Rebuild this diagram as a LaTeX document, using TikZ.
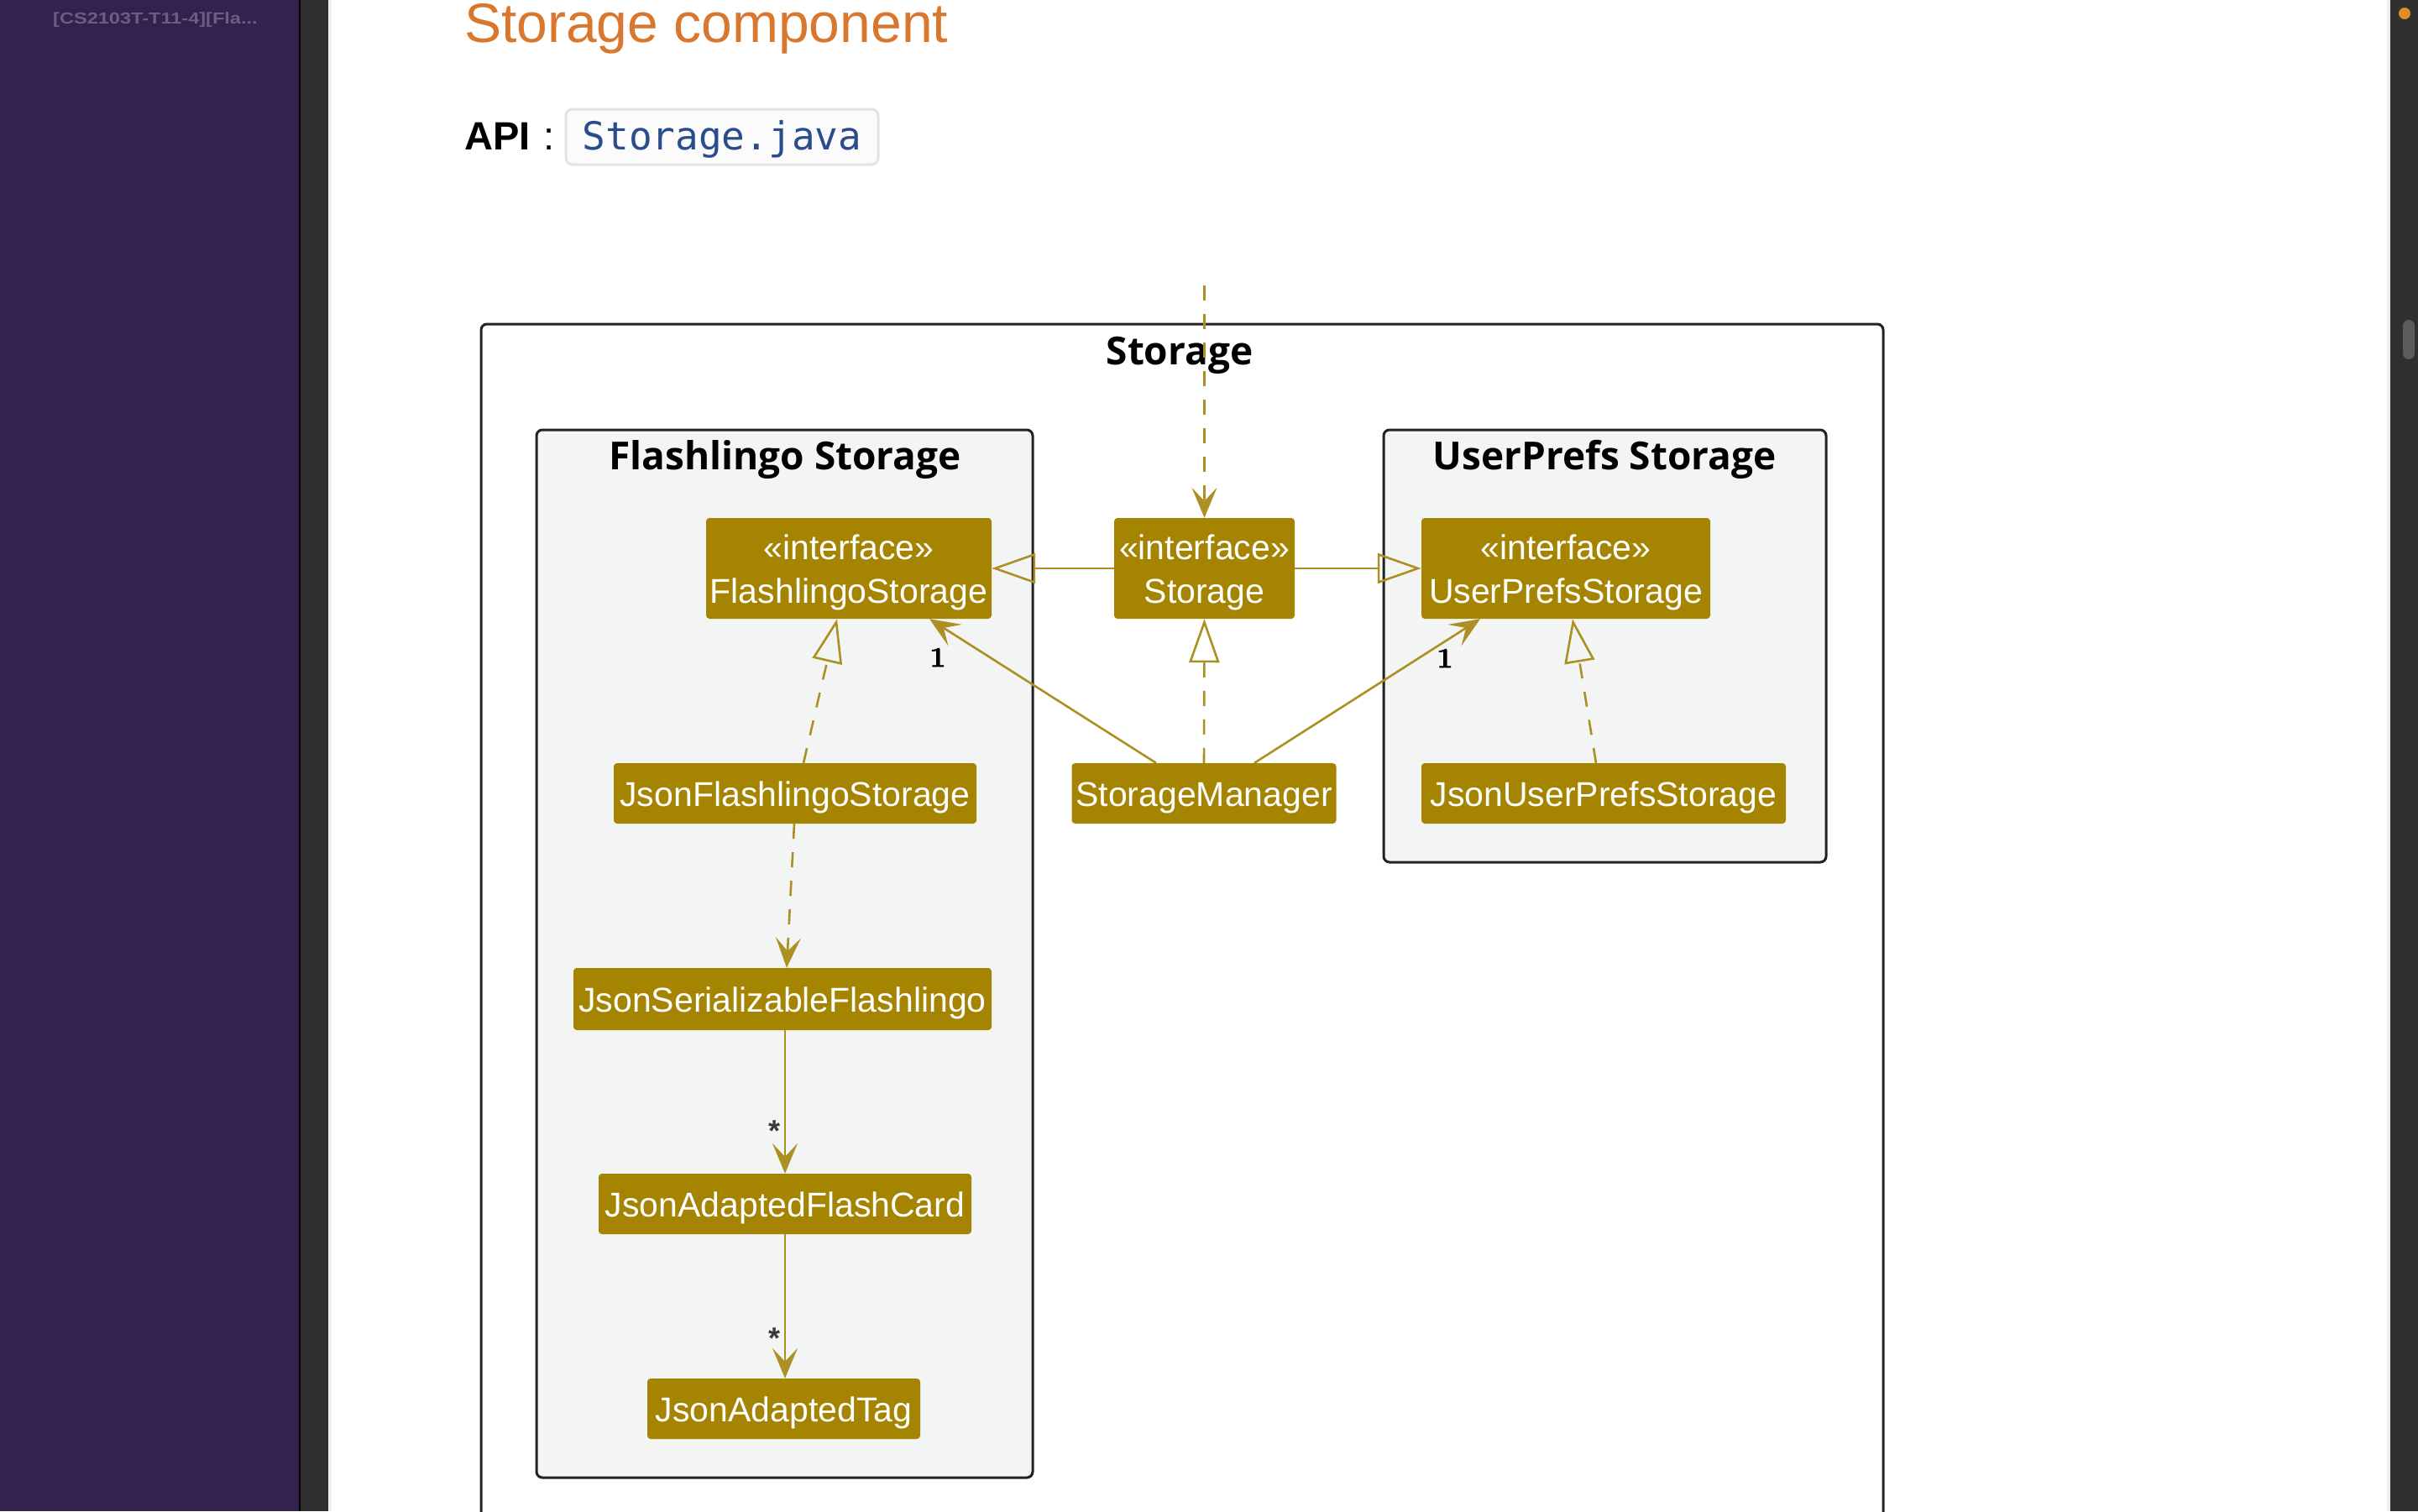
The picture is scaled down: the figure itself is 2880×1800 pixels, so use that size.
\documentclass[tikz,border=0pt]{standalone}
\usepackage{fontspec}
\usepackage{graphicx}
\newfontfamily\sans{Liberation Sans}
\newfontfamily\pkgfont{Open Sans}
\newfontfamily\codefont{DejaVu Sans Mono}
\newfontfamily\multfont{lmroman10-bold.otf}[FakeBold=1.2]
\newcommand\clsstrut{\rule{0pt}{40pt}}
\usetikzlibrary{arrows.meta}
\definecolor{sidepurple}{HTML}{34224E}
\definecolor{sidegray}{HTML}{2F2F2F}
\definecolor{sidetext}{HTML}{6A5E82}
\definecolor{titleorange}{HTML}{D9772F}
\definecolor{codeblue}{HTML}{2A4C8C}
\definecolor{codeborder}{HTML}{E3E3E3}
\definecolor{codebg}{HTML}{FBFBFB}
\definecolor{gold}{HTML}{A48400}
\definecolor{goldline}{HTML}{AC9024}
\definecolor{pkgfill}{HTML}{F3F4F4}
\definecolor{pkgline}{HTML}{222222}
\definecolor{starc}{HTML}{3A3A3A}
\definecolor{dotorange}{HTML}{DB8E2E}
\definecolor{thumb}{HTML}{5C5C5C}
\definecolor{edgestrip}{HTML}{EFEFEF}
\begin{document}
\begin{tikzpicture}[x=1pt,y=-1pt,
  cls/.style={fill=gold, rounded corners=4pt, text=white, font=\sans\fontsize{41}{52}\selectfont, align=center, inner sep=0pt},
  pkg/.style={draw=pkgline, line width=3pt, rounded corners=7pt, inner sep=0pt},
  pkgtitle/.style={font=\pkgfont\bfseries\fontsize{46}{50}\selectfont, inner sep=0pt, anchor=base},
  conn/.style={draw=goldline, line width=2.6pt},
  dep/.style={dash pattern=on 18pt off 16pt},
  tri/.style={-{Triangle[open, length=52pt, width=36pt]}},
  stl/.style={-{Stealth[length=36pt, width=30pt, inset=16pt]}},
  mult/.style={font=\multfont\fontsize{34}{34}\selectfont, inner sep=0pt},
  star/.style={font=\sans\bfseries\fontsize{36}{36}\selectfont, text=starc, inner sep=0pt},
]
\useasboundingbox (0,0) rectangle (2880,1800);
% page chrome
\fill[white] (0,0) rectangle (2880,1800);
\fill[sidepurple] (0,0) rectangle (356,1800);
\fill[black] (356,0) rectangle (358,1800);
\fill[sidegray] (358,0) rectangle (391,1800);
\fill[edgestrip] (391,0) rectangle (395,1800);
\fill[edgestrip] (2843,0) rectangle (2847,1800);
\fill[sidegray] (2847,0) rectangle (2880,1800);
\fill[dotorange] (2864,16) circle (7pt);
\fill[thumb, rounded corners=7pt] (2862,381) rectangle (2876,428);
\node[anchor=base west, text=sidetext, font=\sans\bfseries\fontsize{19}{19}\selectfont, inner sep=0pt] (side) at (63,28) {\scalebox{1.24}[1]{[CS2103T-T11-4][Fla...}};
% heading
\node[anchor=base west, text=titleorange, font=\sans\fontsize{66}{66}\selectfont, inner sep=0pt] (title) at (553,50) {Storage component};
\node[anchor=base west, font=\sans\bfseries\fontsize{47}{47}\selectfont, inner sep=0pt] (api) at (553,178) {API};
\node[anchor=base, font=\sans\fontsize{47}{47}\selectfont, inner sep=0pt] (colon) at (654,178) {:};
\node[draw=codeborder, fill=codebg, line width=3pt, rounded corners=8pt, minimum width=372pt, minimum height=66pt, inner sep=0pt] (codebox) at (860,163) {};
\node[anchor=base, text=codeblue, font=\codefont\fontsize{46}{46}\selectfont, inner sep=0pt] (code) at (860,178) {Storage.java};
% packages
\node[pkg, fill=white, minimum width=1670pt, minimum height=1444pt] (outer) at (1408,1108) {};
\node[pkg, fill=pkgfill, minimum width=591pt, minimum height=1248pt] (flpkg) at (934.5,1136) {};
\node[pkg, fill=pkgfill, minimum width=527pt, minimum height=515pt] (uppkg) at (1911.5,769.5) {};
\node[pkgtitle] (outert) at (1405,434) {Storage};
\node[pkgtitle] (flpkgt) at (935,559) {Flashlingo Storage};
\node[pkgtitle] (uppkgt) at (1911,559) {UserPrefs Storage};
% classes
\node[cls, minimum width=340pt, minimum height=120pt] (FS) at (1011,677) {\clsstrut«interface»\\FlashlingoStorage};
\node[cls, minimum width=215pt, minimum height=120pt] (ST) at (1434.5,677) {\clsstrut«interface»\\Storage};
\node[cls, minimum width=344pt, minimum height=120pt] (UPS) at (1865,677) {\clsstrut«interface»\\UserPrefsStorage};
\node[cls, minimum width=432pt, minimum height=72pt] (JFS) at (947,945) {\clsstrut JsonFlashlingoStorage};
\node[cls, minimum width=315pt, minimum height=72pt] (SM) at (1434,945) {\clsstrut StorageManager};
\node[cls, minimum width=434pt, minimum height=72pt] (JUPS) at (1910,945) {\clsstrut JsonUserPrefsStorage};
\node[cls, minimum width=498pt, minimum height=74pt] (JSF) at (932,1190) {\clsstrut JsonSerializableFlashlingo};
\node[cls, minimum width=444pt, minimum height=72pt] (JAF) at (935,1434) {\clsstrut JsonAdaptedFlashCard};
\node[cls, minimum width=325pt, minimum height=72pt] (JAT) at (933.5,1678) {\clsstrut JsonAdaptedTag};
% connectors
\coordinate (topin) at (1434.5,340);
\draw[conn, dep, stl] (topin) -- (ST.north);
\draw[conn, tri] (ST.west) -- (FS.east);
\draw[conn, tri] (ST.east) -- (UPS.west);
\draw[conn, dep, tri] (SM.north) -- (ST.south);
\draw[conn, stl] ([xshift=-57pt]SM.north) -- ([xshift=96pt]FS.south);
\draw[conn, stl] ([xshift=60pt]SM.north) -- ([xshift=-102pt]UPS.south);
\draw[conn, dep, tri] ([xshift=10pt]JFS.north) -- ([xshift=-14pt]FS.south);
\draw[conn, dep, tri] ([xshift=-9pt]JUPS.north) -- ([xshift=8pt]UPS.south);
\draw[conn, dep, stl] ([xshift=-1pt]JFS.south) -- ([xshift=5pt]JSF.north);
\draw[conn, stl] ([xshift=3pt]JSF.south) -- (JAF.north);
\draw[conn, stl] (JAF.south) -- ([xshift=1.5pt]JAT.north);
% multiplicities
\node[mult] (m1) at (1117,783) {1};
\node[mult] (m2) at (1721,784) {1};
\node[star] (s1) at (922,1347) {*};
\node[star] (s2) at (922,1594) {*};
\end{tikzpicture}
\end{document}
